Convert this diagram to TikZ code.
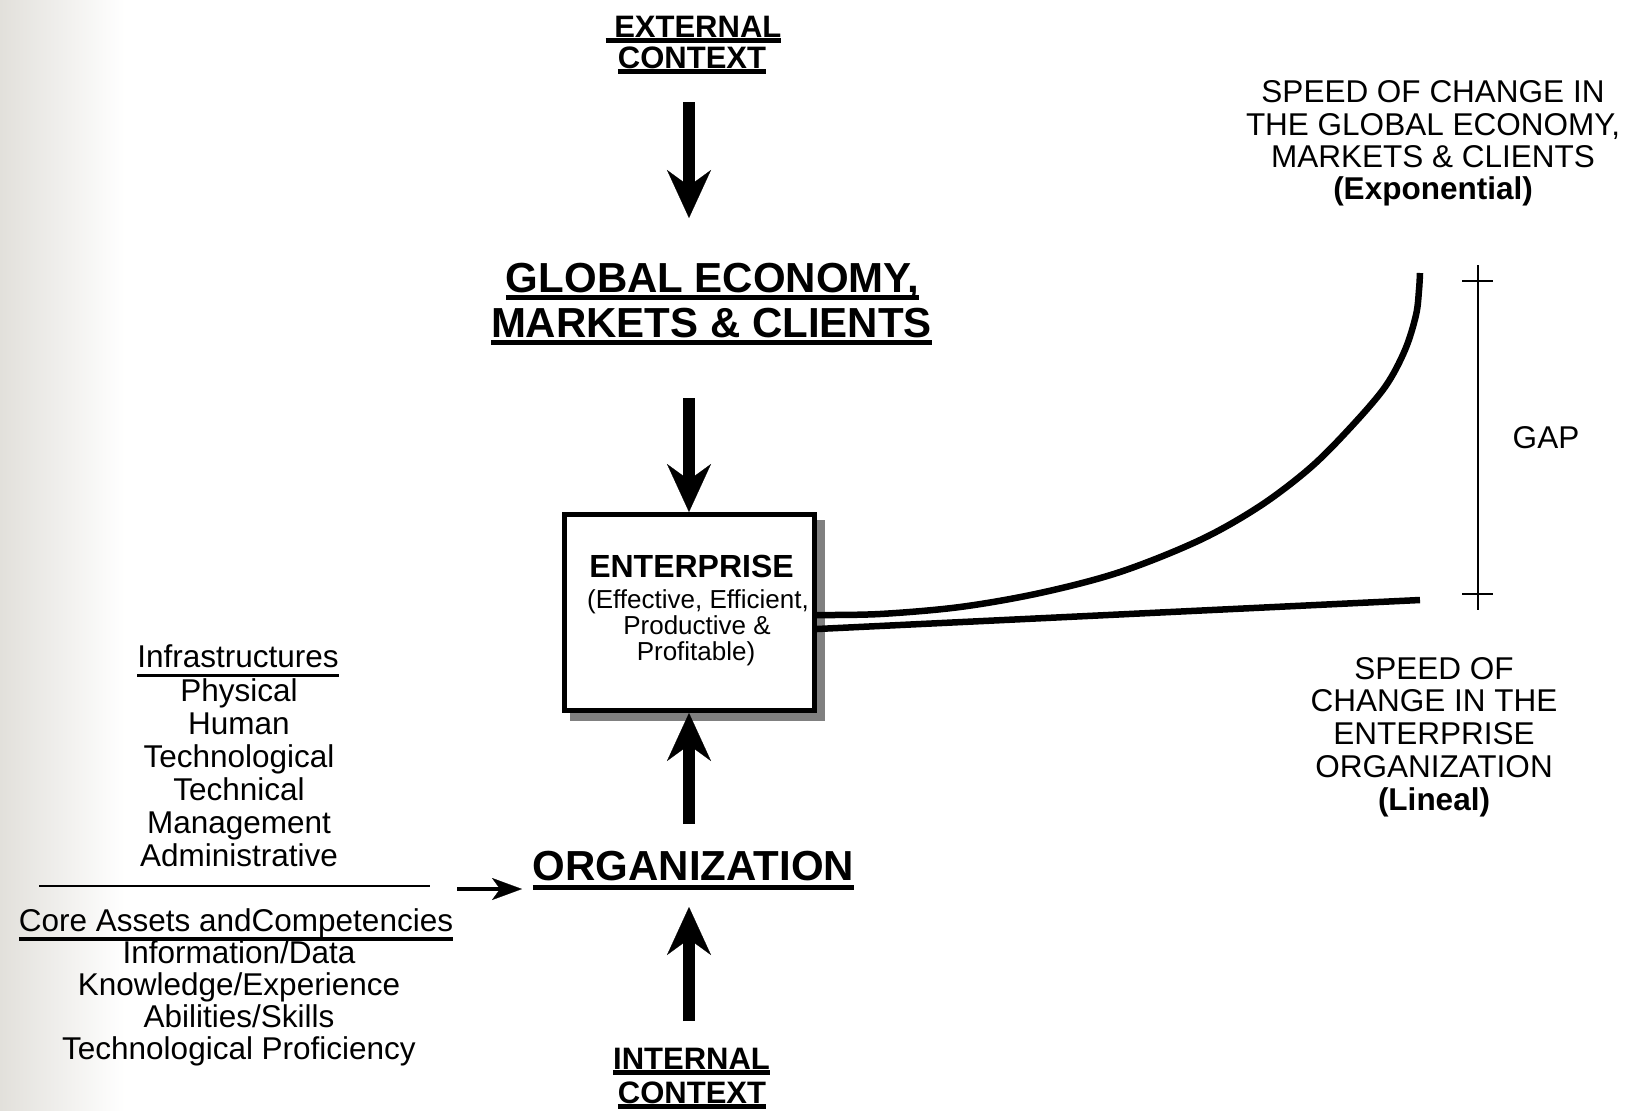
\documentclass[tikz,border=0pt]{standalone}
\usepackage{fontspec}
\setmainfont{Liberation Sans}
\usetikzlibrary{arrows.meta,calc}
\definecolor{bgL}{RGB}{226,224,219}
\definecolor{shadowgray}{RGB}{128,128,128}
\newcommand\tul[3]{\setbox0=\hbox{#3}\leavevmode\rlap{\rule[-#2]{\wd0}{#1}}\box0}
\begin{document}
\begin{tikzpicture}[x=0.5pt,y=-0.5pt,
  bigarr/.style={line width=6pt,-{Stealth[length=24pt,width=22pt,inset=8pt,line width=0.1pt]}},
  smallarr/.style={line width=2pt,-{Stealth[length=15pt,width=11pt,inset=4pt,line width=0.1pt]}},
  ctx/.style={inner sep=0pt,anchor=base,font=\fontsize{15.5}{16}\selectfont\bfseries},
  big/.style={inner sep=0pt,anchor=base,font=\fontsize{21}{22}\selectfont\bfseries},
  side/.style={inner sep=0pt,anchor=base,font=\fontsize{15.75}{16}\selectfont},
  sidebold/.style={side,font=\fontsize{15.75}{16}\selectfont\bfseries},
  small/.style={inner sep=0pt,anchor=base,font=\fontsize{13}{13}\selectfont},
  entbox/.style={draw,line width=2.5pt,minimum width=125pt,minimum height=98pt,inner sep=0pt},
  curve/.style={line width=3.25pt},
  thinline/.style={line width=0.75pt}]
\useasboundingbox (0,0) rectangle (1635,1110);
\fill[white] (0,0) rectangle (1635,1110);
\shade[left color=bgL,right color=white] (0,0) rectangle (125,1110);

% external context
\node[ctx] (ext1) at (693.5,37) {\tul{2.5pt}{3pt}{\ EXTERNAL}};
\node[ctx] (ext2) at (692,68) {\tul{2.5pt}{3pt}{CONTEXT}};
\coordinate (a1s) at (689,102);
\coordinate (a1e) at (689,218);
\draw[bigarr] (a1s) -- (a1e);

% global economy
\node[big] (ge1) at (712.5,292) {\tul{2.5pt}{4pt}{GLOBAL ECONOMY,}};
\node[big] (ge2) at (711.5,337) {\tul{2.5pt}{4pt}{MARKETS \& CLIENTS}};

% enterprise box
\node[entbox,draw=shadowgray,fill=shadowgray] (entshadow) at (697.5,620.5) {};
\node[entbox,fill=white] (ent) at (689.5,612.5) {};
\node[inner sep=0pt,anchor=base,font=\fontsize{16}{16}\selectfont\bfseries] (entT) at (691.5,577) {ENTERPRISE};
\node[small] (entA) at (698,608) {(Effective, Efficient,};
\node[small] (entB) at (697,634) {Productive \&};
\node[small] (entC) at (696,660) {Profitable)};

\coordinate (a2s) at (689,398);
\draw[bigarr] (a2s) -- (ent.north -| a2s);

% organization
\node[big] (org) at (693.5,880) {\tul{2.5pt}{5pt}{ORGANIZATION}};
\coordinate (a3s) at (689,824);
\draw[bigarr] (a3s) -- (ent.south -| a3s);
\coordinate (a4s) at (689,1021);
\coordinate (a4e) at (689,907);
\draw[bigarr] (a4s) -- (a4e);

% internal context
\node[ctx] (int1) at (691.5,1069) {\tul{2.5pt}{3pt}{INTERNAL}};
\node[ctx] (int2) at (692,1103) {\tul{2.5pt}{3pt}{CONTEXT}};

% left lists
\node[side] (inf0) at (238,667) {\tul{1.5pt}{5pt}{Infrastructures}};
\foreach \t [count=\i] in {Physical,Human,Technological,Technical,Management,Administrative}
  \node[side] (inf\i) at (239,{701+33*(\i-1)}) {\t};
\coordinate (hl1) at (39,886);
\coordinate (hl2) at (430,886);
\draw[thinline] (hl1) -- (hl2);
\coordinate (sas) at (457,889);
\coordinate (sae) at (522,889);
\draw[smallarr] (sas) -- (sae);
\node[side] (core0) at (236,931) {\tul{2pt}{5pt}{Core Assets andCompetencies}};
\foreach \t [count=\i] in {Information/Data,Knowledge/Experience,Abilities/Skills,Technological Proficiency}
  \node[side] (core\i) at (239,{963+32*(\i-1)}) {\t};

% right texts
\node[side] (sp1) at (1433,102) {SPEED OF CHANGE IN};
\node[side] (sp2) at (1433,135) {THE GLOBAL ECONOMY,};
\node[side] (sp3) at (1433,167) {MARKETS \& CLIENTS};
\node[sidebold] (sp4) at (1433,199) {(Exponential)};
\node[side] (se1) at (1434,679) {SPEED OF};
\node[side] (se2) at (1434,711) {CHANGE IN THE};
\node[side] (se3) at (1434,744) {ENTERPRISE};
\node[side] (se4) at (1434,777) {ORGANIZATION};
\node[sidebold] (se5) at (1434,810) {(Lineal)};
\node[side] (gap) at (1546,448) {GAP};

% curves
\coordinate (cu0) at (817,615);
\coordinate (cu1) at (1420,273);
\coordinate (cl0) at (817,629);
\coordinate (cl1) at (1420,600);
\draw[curve] plot[smooth,tension=0.55] coordinates {(cu0) (880,614) (960,607) (1040,593) (1120,572) (1200,540) (1260,506) (1310,468) (1350,428) (1385,387) (1405,350) (1416,315) (1419,290) (cu1)};
\draw[curve] (cl0) -- (cl1);

% gap marker
\coordinate (g0) at (1478,265);
\coordinate (g1) at (1478,610);
\draw[thinline] (g0) -- (g1);
\coordinate (t0a) at (1462,281);
\coordinate (t0b) at (1493,281);
\coordinate (t1a) at (1462,594);
\coordinate (t1b) at (1493,594);
\draw[thinline] (t0a) -- (t0b);
\draw[thinline] (t1a) -- (t1b);
\end{tikzpicture}
\end{document}
